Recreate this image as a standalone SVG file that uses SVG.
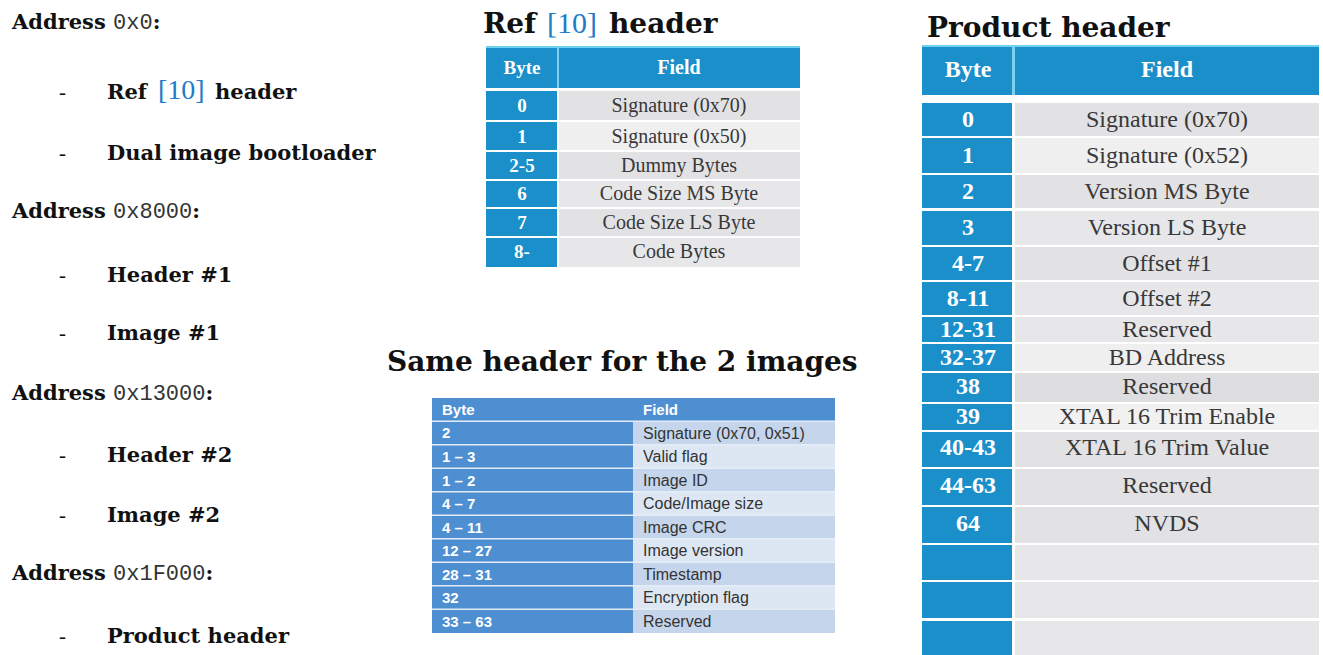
<svg xmlns="http://www.w3.org/2000/svg" width="1323" height="655" viewBox="0 0 1323 655">
<style>
.lbl{font-family:"DejaVu Serif","Liberation Serif",serif;font-weight:bold;font-size:21px;fill:#111}
.dash{font-family:"Liberation Serif",serif;font-size:21px;fill:#111}
.mono{font-family:"Liberation Mono","DejaVu Sans Mono",monospace;font-size:22px;fill:#333}
.ref{font-family:"Liberation Serif",serif;fill:#1f7cc8}
.title{font-family:"DejaVu Serif","Liberation Serif",serif;font-weight:bold;font-size:28px;fill:#111}
.bc{fill:#1b8fca}
.hd{font-family:"Liberation Serif",serif;font-weight:bold;fill:#fff;text-anchor:middle}
.fd{font-family:"Liberation Serif",serif;fill:#383838;text-anchor:middle}
.sb{fill:#4d8fd1}
.shd{font-family:"Liberation Sans",Arial,sans-serif;font-weight:bold;font-size:15px;fill:#fff}
.sfd{font-family:"Liberation Sans",Arial,sans-serif;font-size:16px;fill:#333}
.g1{fill:#e2e2e5}.g2{fill:#efeff0}.g3{fill:#e7e7e9}
.s1{fill:#c5d5eb}.s2{fill:#dde7f4}
</style>
<rect width="1323" height="655" fill="#fff"/>

<g id="memory-map">
<text class="lbl" x="12" y="29">Address <tspan class="mono" font-weight="normal">0x0</tspan>:</text>
<text class="dash" x="59" y="99">-</text>
<text class="lbl" x="107" y="99">Ref</text>
<text class="ref" x="158" y="99" font-size="28">[10]</text>
<text class="lbl" x="215" y="99">header</text>
<text class="dash" x="59" y="160">-</text>
<text class="lbl" x="107" y="160">Dual image bootloader</text>
<text class="lbl" x="12" y="218">Address <tspan class="mono" font-weight="normal">0x8000</tspan>:</text>
<text class="dash" x="59" y="282">-</text>
<text class="lbl" x="107" y="282">Header #1</text>
<text class="dash" x="59" y="340">-</text>
<text class="lbl" x="107" y="340">Image #1</text>
<text class="lbl" x="12" y="400">Address <tspan class="mono" font-weight="normal">0x13000</tspan>:</text>
<text class="dash" x="59" y="462">-</text>
<text class="lbl" x="107" y="462">Header #2</text>
<text class="dash" x="59" y="522">-</text>
<text class="lbl" x="107" y="522">Image #2</text>
<text class="lbl" x="12" y="580">Address <tspan class="mono" font-weight="normal">0x1F000</tspan>:</text>
<text class="dash" x="59" y="643">-</text>
<text class="lbl" x="107" y="643">Product header</text>
</g>

<g id="ref-header">
<text class="title" x="483" y="33">Ref</text>
<text class="ref" x="547" y="33" font-size="30">[10]</text>
<text class="title" x="609" y="33">header</text>
<rect x="486" y="46" width="314" height="42" class="bc"/>
<rect x="486" y="46" width="314" height="2" fill="#6fd3f0"/>
<rect x="557" y="48" width="2" height="40" fill="#7fd0ee"/>
<text class="hd" x="522" y="74" font-size="19">Byte</text>
<text class="hd" x="679" y="74" font-size="20">Field</text>
<g font-size="19">
<rect x="486" y="91" width="71" height="29" class="bc"/><rect x="559" y="91" width="241" height="29" class="g1"/>
<text class="hd" x="522" y="112">0</text><text class="fd" x="679" y="112" font-size="20">Signature (0x70)</text>
<rect x="486" y="122" width="71" height="28" class="bc"/><rect x="559" y="122" width="241" height="28" class="g2"/>
<text class="hd" x="522" y="143">1</text><text class="fd" x="679" y="143" font-size="20">Signature (0x50)</text>
<rect x="486" y="152" width="71" height="27" class="bc"/><rect x="559" y="152" width="241" height="27" class="g1"/>
<text class="hd" x="522" y="172">2-5</text><text class="fd" x="679" y="172" font-size="20">Dummy Bytes</text>
<rect x="486" y="181" width="71" height="26" class="bc"/><rect x="559" y="181" width="241" height="26" class="g3"/>
<text class="hd" x="522" y="200">6</text><text class="fd" x="679" y="200" font-size="20">Code Size MS Byte</text>
<rect x="486" y="209" width="71" height="27" class="bc"/><rect x="559" y="209" width="241" height="27" class="g1"/>
<text class="hd" x="522" y="229">7</text><text class="fd" x="679" y="229" font-size="20">Code Size LS Byte</text>
<rect x="486" y="238" width="71" height="29" class="bc"/><rect x="559" y="238" width="241" height="29" class="g3"/>
<text class="hd" x="522" y="258">8-</text><text class="fd" x="679" y="258" font-size="20">Code Bytes</text>
</g>
</g>

<g id="image-header">
<text class="title" x="387" y="371">Same header for the 2 images</text>
<rect x="432" y="398" width="403" height="235" fill="#e4edf7"/>
<rect x="432" y="398" width="403" height="22.5" class="sb"/>
<text class="shd" x="442" y="415">Byte</text>
<text class="shd" x="643" y="415">Field</text>
<g>
<rect x="432" y="422" width="201" height="22" class="sb"/><rect x="633" y="422" width="202" height="22" class="s1"/>
<text class="shd" x="442" y="438">2</text><text class="sfd" x="643" y="438.5">Signature (0x70, 0x51)</text>
<rect x="432" y="445.5" width="201" height="22" class="sb"/><rect x="633" y="445.5" width="202" height="22" class="s2"/>
<text class="shd" x="442" y="462">1 – 3</text><text class="sfd" x="643" y="462">Valid flag</text>
<rect x="432" y="469" width="201" height="22" class="sb"/><rect x="633" y="469" width="202" height="22" class="s1"/>
<text class="shd" x="442" y="485.5">1 – 2</text><text class="sfd" x="643" y="485.5">Image ID</text>
<rect x="432" y="492.5" width="201" height="22" class="sb"/><rect x="633" y="492.5" width="202" height="22" class="s2"/>
<text class="shd" x="442" y="509">4 – 7</text><text class="sfd" x="643" y="509">Code/Image size</text>
<rect x="432" y="516" width="201" height="22" class="sb"/><rect x="633" y="516" width="202" height="22" class="s1"/>
<text class="shd" x="442" y="532.5">4 – 11</text><text class="sfd" x="643" y="532.5">Image CRC</text>
<rect x="432" y="539.5" width="201" height="22" class="sb"/><rect x="633" y="539.5" width="202" height="22" class="s2"/>
<text class="shd" x="442" y="556">12 – 27</text><text class="sfd" x="643" y="556">Image version</text>
<rect x="432" y="563" width="201" height="22" class="sb"/><rect x="633" y="563" width="202" height="22" class="s1"/>
<text class="shd" x="442" y="579.5">28 – 31</text><text class="sfd" x="643" y="579.5">Timestamp</text>
<rect x="432" y="586.5" width="201" height="22" class="sb"/><rect x="633" y="586.5" width="202" height="22" class="s2"/>
<text class="shd" x="442" y="603">32</text><text class="sfd" x="643" y="603">Encryption flag</text>
<rect x="432" y="610" width="201" height="23" class="sb"/><rect x="633" y="610" width="202" height="23" class="s1"/>
<text class="shd" x="442" y="627">33 – 63</text><text class="sfd" x="643" y="627">Reserved</text>
</g>
</g>

<g id="product-header">
<text class="title" x="927" y="37">Product header</text>
<rect x="922" y="45" width="397" height="50" class="bc"/>
<rect x="922" y="45" width="397" height="2" fill="#6fd3f0"/>
<rect x="1012" y="47" width="3" height="48" fill="#7fd0ee"/>
<text class="hd" x="968" y="77" font-size="24">Byte</text>
<text class="hd" x="1167" y="77" font-size="24">Field</text>
<g font-size="24">
<rect x="922" y="103" width="90" height="33" class="bc"/><rect x="1015" y="103" width="304" height="33" class="g1"/>
<text class="hd" x="968" y="127">0</text><text class="fd" x="1167" y="127">Signature (0x70)</text>
<rect x="922" y="138" width="90" height="35" class="bc"/><rect x="1015" y="138" width="304" height="35" class="g2"/>
<text class="hd" x="968" y="163">1</text><text class="fd" x="1167" y="163">Signature (0x52)</text>
<rect x="922" y="175" width="90" height="33" class="bc"/><rect x="1015" y="175" width="304" height="33" class="g1"/>
<text class="hd" x="968" y="199">2</text><text class="fd" x="1167" y="199">Version MS Byte</text>
<rect x="922" y="211" width="90" height="34" class="bc"/><rect x="1015" y="211" width="304" height="34" class="g3"/>
<text class="hd" x="968" y="235">3</text><text class="fd" x="1167" y="235">Version LS Byte</text>
<rect x="922" y="247" width="90" height="33" class="bc"/><rect x="1015" y="247" width="304" height="33" class="g1"/>
<text class="hd" x="968" y="271">4-7</text><text class="fd" x="1167" y="271">Offset #1</text>
<rect x="922" y="282" width="90" height="33" class="bc"/><rect x="1015" y="282" width="304" height="33" class="g3"/>
<text class="hd" x="968" y="306">8-11</text><text class="fd" x="1167" y="306">Offset #2</text>
<rect x="922" y="317" width="90" height="25" class="bc"/><rect x="1015" y="317" width="304" height="25" class="g3"/>
<text class="hd" x="968" y="337">12-31</text><text class="fd" x="1167" y="337">Reserved</text>
<rect x="922" y="344" width="90" height="27" class="bc"/><rect x="1015" y="344" width="304" height="27" class="g2"/>
<text class="hd" x="968" y="365">32-37</text><text class="fd" x="1167" y="365">BD Address</text>
<rect x="922" y="373" width="90" height="29" class="bc"/><rect x="1015" y="373" width="304" height="29" fill="#dedee0"/>
<text class="hd" x="968" y="394">38</text><text class="fd" x="1167" y="394">Reserved</text>
<rect x="922" y="404" width="90" height="26" class="bc"/><rect x="1015" y="404" width="304" height="26" fill="#f1f1f2"/>
<text class="hd" x="968" y="424">39</text><text class="fd" x="1167" y="424">XTAL 16 Trim Enable</text>
<rect x="922" y="432" width="90" height="35" class="bc"/><rect x="1015" y="432" width="304" height="35" class="g1"/>
<text class="hd" x="968" y="455">40-43</text><text class="fd" x="1167" y="455">XTAL 16 Trim Value</text>
<rect x="922" y="469" width="90" height="36" class="bc"/><rect x="1015" y="469" width="304" height="36" class="g1"/>
<text class="hd" x="968" y="493">44-63</text><text class="fd" x="1167" y="493">Reserved</text>
<rect x="922" y="507" width="90" height="36" class="bc"/><rect x="1015" y="507" width="304" height="36" class="g1"/>
<text class="hd" x="968" y="531">64</text><text class="fd" x="1167" y="531">NVDS</text>
<rect x="922" y="545" width="90" height="35" class="bc"/><rect x="1015" y="545" width="304" height="35" class="g3"/>
<rect x="922" y="582" width="90" height="36" class="bc"/><rect x="1015" y="582" width="304" height="36" class="g3"/>
<rect x="922" y="621" width="90" height="34" class="bc"/><rect x="1015" y="621" width="304" height="34" class="g3"/>
</g>
</g>
</svg>
